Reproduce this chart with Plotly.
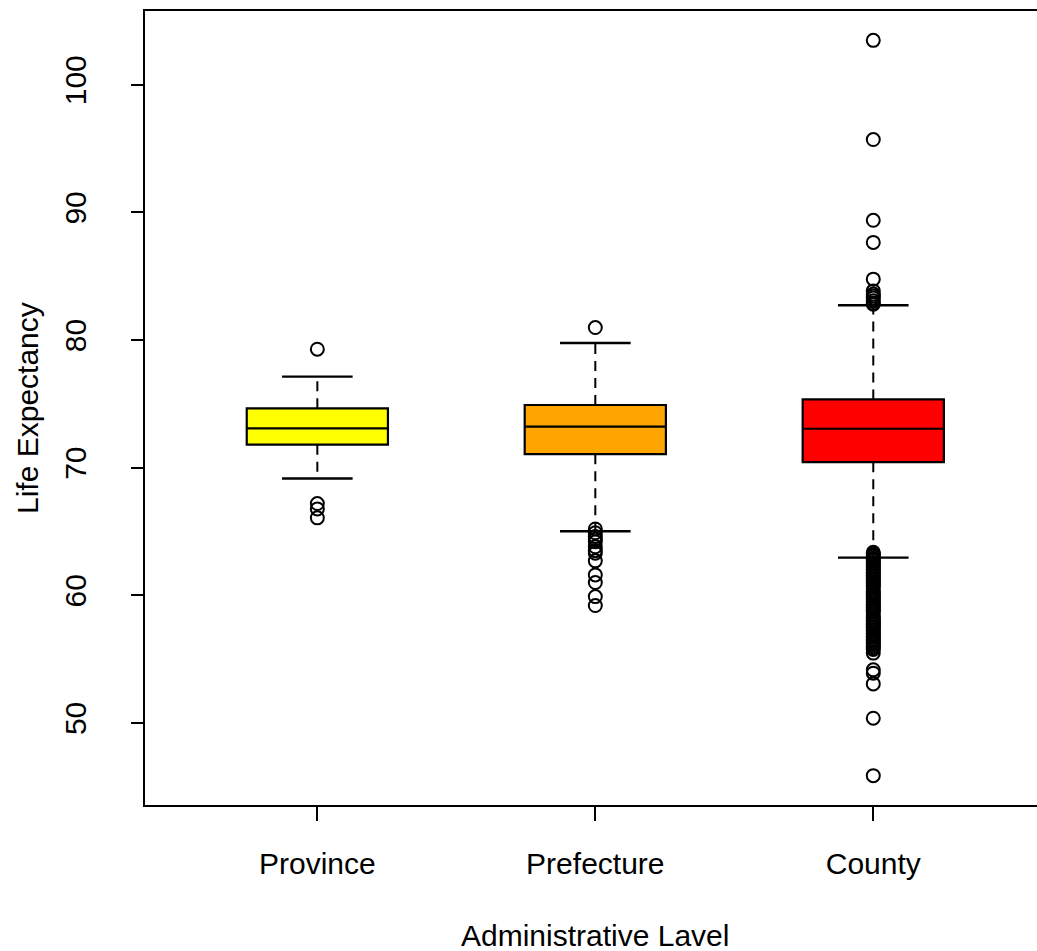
import plotly.graph_objects as go

# ---- data ----
categories = ["Province", "Prefecture", "County"]
positions = [1, 2, 3]
fill_colors = ["#FFFF00", "#FFA500", "#FF0000"]

q1 = [71.80, 71.06, 70.43]
median = [73.08, 73.21, 73.05]
q3 = [74.65, 74.91, 75.35]
lower_whisker = [69.15, 65.02, 62.95]
upper_whisker = [77.13, 79.77, 82.73]

province_outliers = [79.28, 67.19, 66.77, 66.07]
prefecture_outliers = [80.98, 65.2, 64.9, 64.6, 64.4, 64.2, 63.8, 63.5, 63.3,
                       62.7, 61.6, 61.0, 59.9, 59.2]
county_upper_outliers = [103.48, 95.71, 89.38, 87.65, 84.77, 83.85, 83.6,
                         83.46, 83.3, 83.07, 82.9, 82.8]
county_lower_outliers = [63.37, 63.25, 63.15, 63.05, 62.9, 62.8, 62.7, 62.55,
                         62.45, 62.3, 62.2, 62.05, 61.95, 61.8, 61.7, 61.55,
                         61.45, 61.3, 61.2, 61.05, 60.95, 60.8, 60.7, 60.55,
                         60.3, 60.2, 60.05, 59.95, 59.8, 59.7, 59.55, 59.45,
                         59.3, 59.2, 59.05, 58.95, 58.8, 58.7, 58.45, 58.3,
                         58.2, 58.05, 57.95, 57.8, 57.7, 57.55, 57.45, 57.3,
                         57.2, 57.05, 56.95, 56.8, 56.7, 56.55, 56.45, 56.3,
                         56.2, 56.05, 55.9, 55.75, 55.47, 54.16, 53.9, 53.06,
                         50.37, 45.87]
county_outliers = county_upper_outliers + county_lower_outliers
outliers = [province_outliers, prefecture_outliers, county_outliers]

y_ticks = [50, 60, 70, 80, 90, 100]

# ---- styling ----
FONT = "Liberation Sans, Arial, Helvetica, sans-serif"
BOX_WIDTH = 0.508
CAP_HALF = 0.127

fig = go.Figure()

for i in range(len(categories)):
    x = positions[i]
    # dashed whiskers
    fig.add_trace(go.Scatter(
        x=[x, x], y=[q3[i], upper_whisker[i]], mode="lines",
        line=dict(color="black", width=2, dash="10px,7px"),
        showlegend=False, hoverinfo="skip"))
    fig.add_trace(go.Scatter(
        x=[x, x], y=[q1[i], lower_whisker[i]], mode="lines",
        line=dict(color="black", width=2, dash="10px,7px"),
        showlegend=False, hoverinfo="skip"))
    # staples
    for w in (upper_whisker[i], lower_whisker[i]):
        fig.add_trace(go.Scatter(
            x=[x - CAP_HALF, x + CAP_HALF], y=[w, w], mode="lines",
            line=dict(color="black", width=2.4),
            showlegend=False, hoverinfo="skip"))
    # box
    fig.add_trace(go.Box(
        x=[x], q1=[q1[i]], median=[median[i]], q3=[q3[i]],
        lowerfence=[q1[i]], upperfence=[q3[i]],
        width=BOX_WIDTH, whiskerwidth=0,
        fillcolor=fill_colors[i],
        line=dict(color="black", width=2.2),
        boxpoints=False, showlegend=False, name=categories[i]))
    # outliers
    fig.add_trace(go.Scatter(
        x=[x] * len(outliers[i]), y=outliers[i], mode="markers",
        marker=dict(symbol="circle-open", size=13, color="black",
                    line=dict(width=2, color="black")),
        showlegend=False, name=categories[i]))

fig.update_layout(
    width=1037, height=951,
    margin=dict(l=145, r=0, t=11, b=146),
    plot_bgcolor="white", paper_bgcolor="white",
    font=dict(family=FONT, size=30, color="black"),
    showlegend=False,
    xaxis=dict(
        range=[0.38, 3.589], tickmode="array", tickvals=positions,
        ticktext=categories, ticks="outside", ticklen=14, tickwidth=1.5,
        tickcolor="black", showline=True, linecolor="black", linewidth=2,
        mirror=True, showgrid=False, zeroline=False,
        ticklabelstandoff=17,
        tickfont=dict(family=FONT, size=30, color="black")),
    yaxis=dict(
        range=[43.57, 105.78], tickmode="array", tickvals=y_ticks,
        ticktext=[str(v) for v in y_ticks], ticks="outside", ticklen=12,
        tickwidth=1.5, tickcolor="black", showline=True, linecolor="black",
        linewidth=2, mirror=False, showgrid=False, zeroline=False,
        tickangle=-90, ticklabelstandoff=33,
        tickfont=dict(family=FONT, size=30, color="black")),
    annotations=[
        dict(text="Administrative Lavel", xref="x", yref="paper", x=2,
             y=(805 - 935) / 794, xanchor="center", yanchor="middle",
             showarrow=False, font=dict(family=FONT, size=30, color="black")),
        dict(text="Life Expectancy", xref="paper", yref="paper",
             x=(27 - 145) / 892, y=0.5, xanchor="center", yanchor="middle",
             textangle=-90, showarrow=False,
             font=dict(family=FONT, size=30, color="black")),
    ],
)

fig.write_html("out.html",
               config={"displayModeBar": False},
               post_script="document.body.style.margin='0px';"
                           "document.body.style.padding='0px';")
